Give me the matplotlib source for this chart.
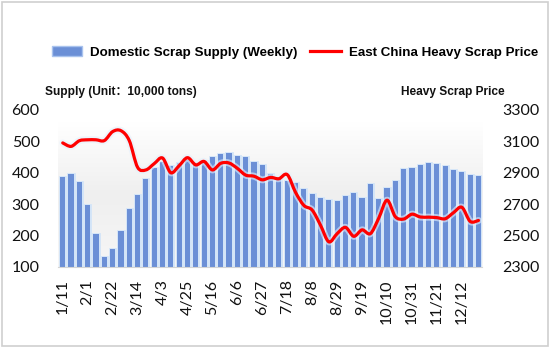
"""
Weekly domestic scrap supply (bars) against East China heavy scrap price (line).
Saves out.png.
"""

import numpy as np
import matplotlib
matplotlib.use("Agg")
import matplotlib.pyplot as plt
import matplotlib.patheffects as pe
from matplotlib.path import Path
from matplotlib.patches import PathPatch, Patch, Rectangle
from matplotlib.lines import Line2D

# weekly supply, 10,000 tons
supply = [
    387, 395, 372, 296, 205, 132, 156, 213, 286, 330,
    379, 415, 434, 423, 432, 440, 431, 438, 451, 460,
    462, 454, 449, 435, 424, 395, 382, 373, 366, 348,
    332, 319, 312, 309, 327, 334, 319, 364, 317, 353,
    373, 411, 416, 426, 432, 427, 421, 409, 403, 393,
    390,
]

# East China heavy scrap price
price = [
    3090, 3068, 3104, 3110, 3110, 3105, 3162, 3168, 3105, 2935,
    2918, 2958, 2994, 2900, 2945, 2996, 2950, 2972, 2918, 2960,
    2962, 2928, 2885, 2878, 2855, 2870, 2862, 2888, 2775, 2692,
    2662, 2566, 2460, 2512, 2552, 2495, 2536, 2512, 2610, 2725,
    2620, 2605, 2636, 2618, 2617, 2614, 2607, 2646, 2680, 2590,
    2596,
]

# every third week is labelled
week_labels = [
    "1/11", "2/1", "2/22", "3/14", "4/3", "4/25", "5/16", "6/6", "6/27",
    "7/18", "8/8", "8/29", "9/19", "10/10", "10/31", "11/21", "12/12",
]

BAR_COLOR = "#6b8fd6"
LINE_COLOR = "#ff0000"
TEXT_FONT = ["Liberation Sans", "Noto Sans CJK SC", "DejaVu Sans"]
TICK_FONT = ["Lato", "DejaVu Sans"]


def smooth_path(xs, ys):
    # Catmull-Rom through the points, written as cubic Bezier segments
    n = len(xs)
    verts = [(xs[0], ys[0])]
    codes = [Path.MOVETO]
    for i in range(n - 1):
        a = max(i - 1, 0)
        d = min(i + 2, n - 1)
        c1 = (xs[i] + (xs[i + 1] - xs[a]) / 6, ys[i] + (ys[i + 1] - ys[a]) / 6)
        c2 = (xs[i + 1] - (xs[d] - xs[i]) / 6, ys[i + 1] - (ys[d] - ys[i]) / 6)
        verts += [c1, c2, (xs[i + 1], ys[i + 1])]
        codes += [Path.CURVE4] * 3
    return Path(verts, codes)


fig = plt.figure(figsize=(5.5, 3.48), dpi=100)
ax = fig.add_axes([0.105, 0.233, 0.771, 0.451])
ax2 = ax.twinx()

x = np.arange(len(supply))

# soft grey plot background
grad = np.linspace(1.0, 0.0, 256).reshape(-1, 1)
cmap = matplotlib.colors.LinearSegmentedColormap.from_list(
    "bg", ["#f6f6f6", "#efefef", "#ffffff"])
ax.imshow(grad, extent=(-0.6, len(supply) - 0.6, 100, 560), aspect="auto",
          cmap=cmap, zorder=0)

bars = ax.bar(x, [v - 100 for v in supply], bottom=100, width=0.62,
              color=BAR_COLOR, zorder=2)
for b in bars:
    b.set_path_effects([pe.withStroke(linewidth=2.0, foreground="#d2e4f8"),
                        pe.Normal()])

patch = PathPatch(smooth_path(x.astype(float), np.array(price, float)),
                  fill=False, edgecolor=LINE_COLOR, linewidth=2.3,
                  capstyle="round", joinstyle="round",
                  transform=ax2.transData, zorder=3)
patch.set_path_effects([pe.Stroke(linewidth=5, foreground="#e4f0fc", alpha=0.6),
                        pe.Normal()])
ax2.add_patch(patch)

ax.set_xlim(-0.6, len(supply) - 0.6)
ax.set_ylim(100, 600)
ax2.set_ylim(2300, 3300)
ax.set_yticks(range(100, 601, 100))
ax2.set_yticks(range(2300, 3301, 200))
ax.set_xticks(x[::3])
ax.set_xticklabels(week_labels, rotation=90, family=TICK_FONT, fontsize=9,
                   color="#222222")

for a in (ax, ax2):
    for s in a.spines.values():
        s.set_visible(False)
    a.tick_params(length=0, labelsize=11.5, colors="#111111")
ax.spines["bottom"].set_visible(True)
ax.spines["bottom"].set_color("#d4d4d4")
ax.tick_params(axis="y", pad=13)
ax.tick_params(axis="x", pad=9)
ax2.tick_params(axis="y", pad=15)
for lbl in ax.get_yticklabels() + ax2.get_yticklabels():
    lbl.set_family(TICK_FONT)

# legend across the top
handles = [Patch(facecolor=BAR_COLOR, edgecolor="#a9c3ee"),
           Line2D([], [], color=LINE_COLOR, linewidth=2.3)]
fig.legend(handles, ["Domestic Scrap Supply (Weekly)", "East China Heavy Scrap Price"],
           loc="center", bbox_to_anchor=(0.536, 0.85), ncol=2, frameon=False,
           handlelength=2.3, handleheight=0.85, handletextpad=0.6,
           columnspacing=0.9, prop={"family": TEXT_FONT, "weight": "bold", "size": 9.6})

fig.text(0.082, 0.735, "Supply (Unit：10,000 tons)", family=TEXT_FONT,
         weight="bold", fontsize=8.6, va="center", color="#111111")
fig.text(0.918, 0.735, "Heavy Scrap Price", family=TEXT_FONT,
         weight="bold", fontsize=8.6, va="center", ha="right", color="#111111")

fig.patches.append(Rectangle((0.004, 0.006), 0.992, 0.988, transform=fig.transFigure,
                             fill=False, edgecolor="#cfcfcf", linewidth=1.2))

fig.savefig("out.png", dpi=100)
